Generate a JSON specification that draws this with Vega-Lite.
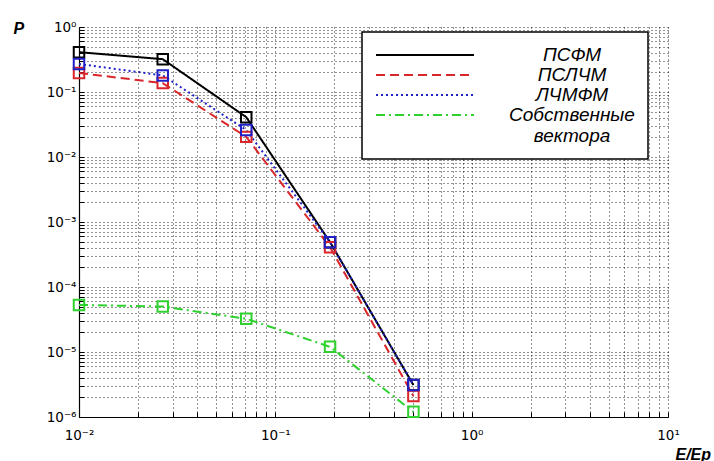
{
  "$schema": "https://vega.github.io/schema/vega-lite/v6.json",
  "width": 589,
  "height": 390,
  "autosize": {"type": "none"},
  "padding": {"left": 79, "top": 27, "right": 46, "bottom": 44},
  "background": "white",
  "config": {
    "view": {"stroke": null},
    "font": "Liberation Sans",
    "axis": {
      "domainColor": "#000",
      "domainWidth": 1.2,
      "tickColor": "#000",
      "tickSize": -5,
      "gridColor": "#000",
      "gridDash": [1, 3],
      "gridOpacity": 0.85,
      "gridWidth": 1,
      "labelFont": "DejaVu Sans",
      "labelFontSize": 13.5,
      "labelColor": "#000",
      "labelFlush": false,
      "labelOverlap": false,
      "titleFont": "Liberation Sans",
      "titleFontStyle": "italic",
      "titleFontWeight": "bold",
      "titleFontSize": 16,
      "titleColor": "#000"
    }
  },
  "data": {
    "values": [
      {"x": 0.01, "p": 0.41, "s": "ПСФМ"},
      {"x": 0.0267, "p": 0.32, "s": "ПСФМ"},
      {"x": 0.0711, "p": 0.041, "s": "ПСФМ"},
      {"x": 0.19, "p": 0.00049, "s": "ПСФМ"},
      {"x": 0.505, "p": 0.0000031, "s": "ПСФМ"},
      {"x": 0.01, "p": 0.196, "s": "ПСЛЧМ"},
      {"x": 0.0267, "p": 0.137, "s": "ПСЛЧМ"},
      {"x": 0.0711, "p": 0.0204, "s": "ПСЛЧМ"},
      {"x": 0.19, "p": 0.00041, "s": "ПСЛЧМ"},
      {"x": 0.505, "p": 0.0000021, "s": "ПСЛЧМ"},
      {"x": 0.01, "p": 0.27, "s": "ЛЧМФМ"},
      {"x": 0.0267, "p": 0.18, "s": "ЛЧМФМ"},
      {"x": 0.0711, "p": 0.026, "s": "ЛЧМФМ"},
      {"x": 0.19, "p": 0.00049, "s": "ЛЧМФМ"},
      {"x": 0.505, "p": 0.0000031, "s": "ЛЧМФМ"},
      {"x": 0.01, "p": 0.000053, "s": "Собственные вектора"},
      {"x": 0.0267, "p": 0.00005, "s": "Собственные вектора"},
      {"x": 0.0711, "p": 0.0000325, "s": "Собственные вектора"},
      {"x": 0.19, "p": 0.000012, "s": "Собственные вектора"},
      {"x": 0.505, "p": 0.0000012, "s": "Собственные вектора"}
    ]
  },
  "layer": [
    {
      "mark": {"type": "line", "strokeWidth": 2},
      "encoding": {
        "x": {
          "field": "x", "type": "quantitative",
          "scale": {"type": "log", "domain": [0.01, 10], "nice": false},
          "axis": {
            "title": "E/Ep",
            "titleAlign": "left",
            "titleBaseline": "alphabetic",
            "titleAnchor": "start",
            "titleX": 596,
            "titleY": 42,
            "labelPadding": 16,
            "values": [0.01,0.02,0.03,0.04,0.05,0.06,0.07,0.08,0.09,0.1,0.2,0.3,0.4,0.5,0.6,0.7,0.8,0.9,1,2,3,4,5,6,7,8,9,10],
            "labelExpr": "indexof([0.01,0.1,1,10], datum.value) >= 0 ? ['10⁻²','10⁻¹','10⁰','10¹'][indexof([0.01,0.1,1,10], datum.value)] : ''"
          }
        },
        "y": {
          "field": "p", "type": "quantitative",
          "scale": {"type": "log", "domain": [0.000001, 1], "nice": false},
          "axis": {
            "title": "P",
            "titleAngle": 0,
            "titleAlign": "left",
            "titleBaseline": "alphabetic",
            "titleAnchor": "start",
            "titleX": -66,
            "titleY": 6,
            "labelPadding": 8,
            "values": [0.000001,0.000002,0.000003,0.000004,0.000005,0.000006,0.000007,0.000008,0.000009,0.00001,0.00002,0.00003,0.00004,0.00005,0.00006,0.00007,0.00008,0.00009,0.0001,0.0002,0.0003,0.0004,0.0005,0.0006,0.0007,0.0008,0.0009,0.001,0.002,0.003,0.004,0.005,0.006,0.007,0.008,0.009,0.01,0.02,0.03,0.04,0.05,0.06,0.07,0.08,0.09,0.1,0.2,0.3,0.4,0.5,0.6,0.7,0.8,0.9,1],
            "labelExpr": "indexof([0.000001,0.00001,0.0001,0.001,0.01,0.1,1], datum.value) >= 0 ? ['10⁻⁶','10⁻⁵','10⁻⁴','10⁻³','10⁻²','10⁻¹','10⁰'][indexof([0.000001,0.00001,0.0001,0.001,0.01,0.1,1], datum.value)] : ''"
          }
        },
        "color": {
          "field": "s", "type": "nominal",
          "scale": {
            "domain": ["ПСФМ", "ПСЛЧМ", "ЛЧМФМ", "Собственные вектора"],
            "range": ["#000000", "#d9262b", "#2020c8", "#2fd12f"]
          },
          "legend": {
            "title": null,
            "orient": "none",
            "legendX": 283,
            "legendY": 5,
            "fillColor": "white",
            "strokeColor": "black",
            "padding": 13,
            "symbolType": "stroke",
            "symbolSize": 9600,
            "symbolStrokeWidth": 2,
            "clipHeight": 20,
            "rowPadding": 0,
            "labelFont": "Liberation Sans",
            "labelFontStyle": "italic",
            "labelFontSize": 19,
            "labelColor": "#000",
            "labelAlign": "center",
            "labelOffset": 97,
            "labelLimit": 400,
            "labelExpr": "datum.label == 'Собственные вектора' ? ['Собственные', 'вектора'] : datum.label",
            "encode": {"legend": {"update": {"strokeWidth": {"value": 1.5}}}}
          }
        },
        "strokeDash": {
          "field": "s", "type": "nominal",
          "scale": {
            "domain": ["ПСФМ", "ПСЛЧМ", "ЛЧМФМ", "Собственные вектора"],
            "range": [[1, 0], [9, 5], [2, 3], [9, 4, 2, 4]]
          },
          "legend": {
            "title": null,
            "orient": "none",
            "legendX": 283,
            "legendY": 5,
            "fillColor": "white",
            "strokeColor": "black",
            "padding": 13,
            "symbolType": "stroke",
            "symbolSize": 9600,
            "symbolStrokeWidth": 2,
            "clipHeight": 20,
            "rowPadding": 0,
            "labelFont": "Liberation Sans",
            "labelFontStyle": "italic",
            "labelFontSize": 19,
            "labelColor": "#000",
            "labelAlign": "center",
            "labelOffset": 97,
            "labelLimit": 400,
            "labelExpr": "datum.label == 'Собственные вектора' ? ['Собственные', 'вектора'] : datum.label",
            "encode": {"legend": {"update": {"strokeWidth": {"value": 1.5}}}}
          }
        }
      }
    },
    {
      "mark": {"type": "point", "shape": "square", "filled": false, "size": 110, "strokeWidth": 2, "opacity": 1},
      "encoding": {
        "x": {"field": "x", "type": "quantitative"},
        "y": {"field": "p", "type": "quantitative"},
        "stroke": {
          "field": "s", "type": "nominal",
          "scale": {
            "domain": ["ПСФМ", "ПСЛЧМ", "ЛЧМФМ", "Собственные вектора"],
            "range": ["#000000", "#d9262b", "#2020c8", "#2fd12f"]
          },
          "legend": null
        }
      }
    }
  ]
}
